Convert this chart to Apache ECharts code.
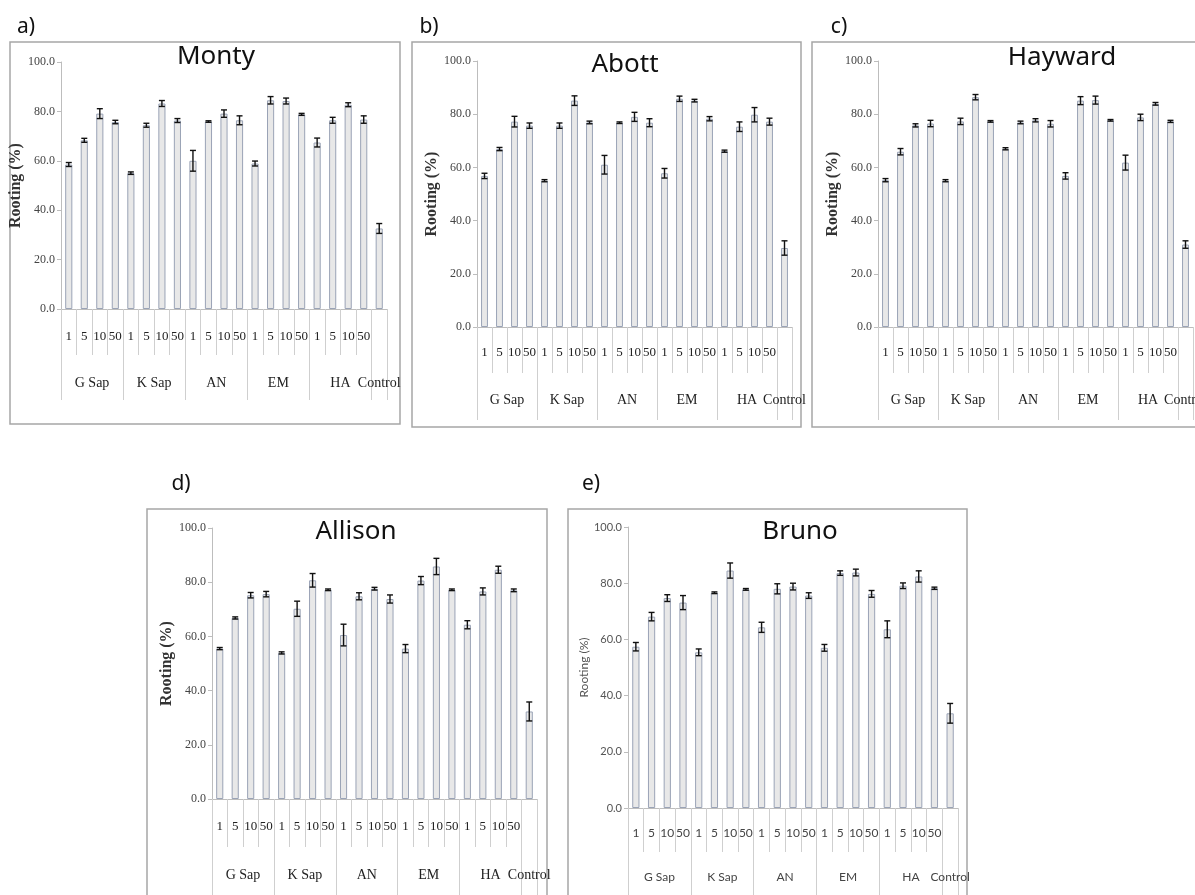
<!DOCTYPE html>
<html>
<head>
<meta charset="utf-8">
<script src="https://cdn.jsdelivr.net/npm/echarts@6/dist/echarts.min.js"></script>
<style>
html,body{margin:0;padding:0;background:#fff;}
#chart{width:1195px;height:895px;}
</style>
</head>
<body>
<div id="chart"></div>
<script>
// ---- data ----
const subLabels = ['1', '5', '10', '50'];
const treatments = ['G Sap', 'K Sap', 'AN', 'EM', 'HA'];
const controlLabel = 'Control';
const yTicks = [0, 20, 40, 60, 80, 100];

const montyValues   = [58.5, 68.3, 79.1, 75.7, 55.0, 74.4, 83.2, 76.3, 60.0, 75.9, 79.1, 76.4, 58.9, 84.5, 84.2, 78.8, 67.4, 76.4, 82.7, 76.7, 32.6];
const montyErrors   = [0.8, 0.8, 2.0, 0.7, 0.5, 0.8, 1.2, 0.8, 4.2, 0.3, 1.5, 1.8, 1.0, 1.5, 1.2, 0.4, 1.8, 1.2, 0.8, 1.5, 2.0];

const abottValues   = [56.8, 66.9, 77.2, 75.7, 55.0, 75.7, 85.1, 76.9, 61.0, 76.8, 79.0, 76.8, 57.8, 85.8, 85.1, 78.3, 66.1, 75.3, 79.8, 77.2, 29.7];
const abottErrors   = [1.0, 0.6, 2.0, 1.0, 0.4, 1.0, 1.8, 0.5, 3.5, 0.3, 1.7, 1.5, 1.8, 1.0, 0.5, 0.8, 0.4, 1.8, 2.7, 1.3, 2.7];

const haywardValues = [55.2, 65.9, 75.8, 76.5, 55.0, 77.3, 86.4, 77.3, 67.0, 76.9, 77.7, 76.4, 56.8, 85.1, 85.3, 77.7, 61.8, 78.8, 83.9, 77.3, 31.0];
const haywardErrors = [0.6, 1.2, 0.6, 1.2, 0.4, 1.2, 1.0, 0.3, 0.4, 0.5, 0.6, 1.2, 1.2, 1.5, 1.5, 0.3, 2.8, 1.2, 0.5, 0.4, 1.4];

const allisonValues = [55.5, 66.8, 75.2, 75.6, 53.9, 70.2, 80.7, 77.2, 60.5, 74.8, 77.6, 73.8, 55.5, 80.6, 85.8, 77.2, 64.3, 76.6, 84.6, 77.0, 32.3];
const allisonErrors = [0.4, 0.4, 1.0, 1.0, 0.4, 2.8, 2.5, 0.3, 4.0, 1.3, 0.5, 1.5, 1.5, 1.5, 3.0, 0.3, 1.5, 1.3, 1.3, 0.5, 3.5];

const brunoValues   = [57.4, 68.1, 74.7, 73.1, 55.4, 76.6, 84.5, 77.8, 64.3, 78.0, 78.8, 75.6, 57.0, 83.6, 83.8, 76.2, 63.6, 79.1, 82.4, 78.2, 33.7];
const brunoErrors   = [1.5, 1.5, 1.2, 2.5, 1.2, 0.3, 2.7, 0.3, 1.8, 1.8, 1.2, 1.0, 1.2, 0.8, 1.2, 1.2, 3.0, 1.0, 2.0, 0.4, 3.5];

// ---- derived category structures ----
const categories = [];
treatments.forEach(() => subLabels.forEach(s => categories.push(s)));
categories.push('');
const nCat = categories.length;               // 21
const nHalf = nCat * 2 + 1;                   // 43 half-slot points
const groupLabelAt = new Array(nHalf).fill('');
const groupBoundaries = [];
treatments.forEach((t, g) => {
  groupLabelAt[g * subLabels.length * 2 + subLabels.length] = t;
  groupBoundaries.push(g * subLabels.length * 2);
});
groupBoundaries.push(treatments.length * subLabels.length * 2);
groupBoundaries.push(nHalf - 1);
groupLabelAt[nHalf - 2] = controlLabel;
const halfCats = groupLabelAt.map((_, i) => 'h' + i);

// ---- layout / style per panel ----
const panels = [
  {title: 'Monty',   letter: 'a)', values: montyValues,   errors: montyErrors,   sans: false,
   grid: {left: 61, top: 62, width: 326, height: 247}, subMargin: 21, groupMargin: 67, subTick: 46, groupTick: 91, nameGap: 28,
   titlePos: [216, 57], letterPos: [26, 27], box: [10, 42, 390, 382]},
  {title: 'Abott',   letter: 'b)', values: abottValues,   errors: abottErrors,   sans: false,
   grid: {left: 477, top: 61, width: 315, height: 266}, subMargin: 19, groupMargin: 66, subTick: 46, groupTick: 93, nameGap: 31,
   titlePos: [625, 65], letterPos: [429, 27], box: [412, 42, 389, 385]},
  {title: 'Hayward', letter: 'c)', values: haywardValues, errors: haywardErrors, sans: false,
   grid: {left: 878, top: 61, width: 315, height: 266}, subMargin: 19, groupMargin: 66, subTick: 46, groupTick: 93, nameGap: 36,
   titlePos: [1062, 58], letterPos: [839, 27], box: [812, 42, 400, 385]},
  {title: 'Allison', letter: 'd)', values: allisonValues, errors: allisonErrors, sans: false,
   grid: {left: 212, top: 528, width: 325, height: 271}, subMargin: 21, groupMargin: 69, subTick: 48, groupTick: 110, nameGap: 35,
   titlePos: [356, 532], letterPos: [181, 484], box: [147, 509, 400, 400]},
  {title: 'Bruno',   letter: 'e)', values: brunoValues,   errors: brunoErrors,   sans: true,
   grid: {left: 628, top: 527, width: 330, height: 281}, subMargin: 19, groupMargin: 63, subTick: 44, groupTick: 110, nameGap: 26,
   titlePos: [800, 532], letterPos: [591, 484], box: [568, 509, 399, 400]}
];

const serif = '"Liberation Serif", "DejaVu Serif", serif';
const sans = 'Lato, "Liberation Sans", sans-serif';
const titleFont = '"Noto Sans", "Open Sans", sans-serif';

const option = {
  backgroundColor: '#fff',
  animation: false,
  grid: [], xAxis: [], yAxis: [], series: [], graphic: []
};

panels.forEach((p, i) => {
  const fam = p.sans ? sans : serif;
  option.grid.push(Object.assign({containLabel: false, outerBoundsMode: 'none'}, p.grid));
  // sub-category axis
  option.xAxis.push({
    type: 'category', gridIndex: i, data: categories, position: 'bottom', boundaryGap: true,
    axisLine: {show: true, lineStyle: {color: '#bdbdbd', width: 1}},
    axisTick: {show: true, interval: 0, length: p.subTick, lineStyle: {color: '#cfcfcf', width: 1}},
    axisLabel: {interval: 0, margin: p.subMargin, fontFamily: fam, fontSize: p.sans ? 12 : 13, color: p.sans ? '#444' : '#222'}
  });
  // group axis (half-slot points)
  option.xAxis.push({
    type: 'category', gridIndex: i, data: halfCats, position: 'bottom', boundaryGap: false, offset: 0,
    axisLine: {show: false},
    axisTick: {show: true, length: p.groupTick, lineStyle: {color: '#cfcfcf', width: 1},
      interval: (idx) => groupBoundaries.indexOf(idx) >= 0},
    axisLabel: {interval: 0, margin: p.groupMargin, fontFamily: fam, fontSize: p.sans ? 12 : 14, color: p.sans ? '#444' : '#222',
      formatter: (v, idx) => groupLabelAt[idx]}
  });
  option.yAxis.push({
    type: 'value', gridIndex: i, min: yTicks[0], max: yTicks[yTicks.length - 1], interval: yTicks[1] - yTicks[0],
    name: 'Rooting (%)', nameLocation: 'middle', nameGap: p.nameGap,
    nameTextStyle: p.sans ? {fontFamily: sans, fontSize: 12, color: '#555'} : {fontFamily: serif, fontSize: 16, fontWeight: 'bold', color: '#333'},
    axisLine: {show: true, lineStyle: {color: '#bdbdbd'}},
    axisTick: {show: true, length: 4, lineStyle: {color: '#bdbdbd'}},
    splitLine: {show: false},
    axisLabel: {margin: 6, fontFamily: fam, fontSize: p.sans ? 11 : 12, color: p.sans ? '#555' : '#444',
      formatter: v => v.toFixed(1)}
  });
  option.series.push({
    type: 'bar', xAxisIndex: i * 2, yAxisIndex: i, data: p.values, barWidth: '46%',
    itemStyle: {color: '#e8e8e8', borderColor: '#9aa3b6', borderWidth: 1},
    z: 2
  });
  option.series.push({
    type: 'custom', xAxisIndex: i * 2, yAxisIndex: i, z: 5,
    data: p.values.map((v, k) => [k, v, p.errors[k]]),
    renderItem: (params, api) => {
      const x = api.value(0), v = api.value(1), e = api.value(2);
      const top = api.coord([x, v + e]);
      const bot = api.coord([x, v - e]);
      const hw = 3;
      const st = {stroke: '#111', lineWidth: 1.4};
      return {type: 'group', children: [
        {type: 'line', shape: {x1: top[0], y1: top[1], x2: bot[0], y2: bot[1]}, style: st},
        {type: 'line', shape: {x1: top[0] - hw, y1: top[1], x2: top[0] + hw, y2: top[1]}, style: st},
        {type: 'line', shape: {x1: bot[0] - hw, y1: bot[1], x2: bot[0] + hw, y2: bot[1]}, style: st}
      ]};
    }
  });
  option.graphic.push({
    type: 'rect', z: -1, silent: true,
    shape: {x: p.box[0], y: p.box[1], width: p.box[2], height: p.box[3]},
    style: {fill: 'none', stroke: '#a6a6a6', lineWidth: 1.5}
  });
  option.graphic.push({
    type: 'text', silent: true, x: p.titlePos[0], y: p.titlePos[1],
    style: {text: p.title, fontFamily: titleFont, fontSize: 26, fill: '#111', align: 'center', verticalAlign: 'middle'}
  });
  option.graphic.push({
    type: 'text', silent: true, x: p.letterPos[0], y: p.letterPos[1],
    style: {text: p.letter, fontFamily: titleFont, fontSize: 21, fill: '#111', align: 'center', verticalAlign: 'middle'}
  });
});

const chart = echarts.init(document.getElementById('chart'), null, {renderer: 'canvas'});
chart.setOption(option);
</script>
</body>
</html>
